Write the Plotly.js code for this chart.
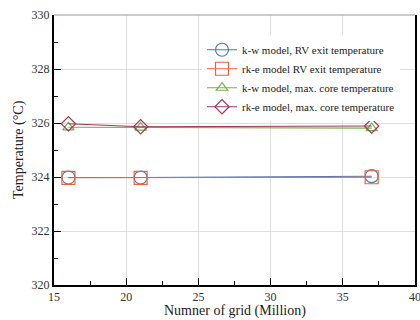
<!DOCTYPE html>
<html><head><meta charset="utf-8">
<script src="https://cdn.plot.ly/plotly-3.0.1.min.js"></script>
<style>body{margin:0;background:#fff}#c{width:420px;height:320px}</style>
</head><body><div id="c"></div>
<script>
const gridM = [16, 21, 37];
const kwExit = [323.98, 323.98, 324.03];
const rkeExit = [323.97, 323.97, 323.99];
const kwCore = [325.84, 325.83, 325.81];
const rkeCore = [325.97, 325.86, 325.89];
const names = ["k-w model, RV exit temperature", "rk-e model RV exit temperature", "k-w model, max. core temperature", "rk-e model, max. core temperature"];
const xTicks = [15, 20, 25, 30, 35, 40];
const yTicks = [320, 322, 324, 326, 328, 330];
const xTitle = 'Numner of grid (Million)';
const yTitle = 'Temperature (°C)';

const traces = [
  {x: gridM, y: kwExit, name: names[0], mode: 'lines+markers', line: {color: '#4a7ab8', width: 1.1}, marker: {symbol: 'circle-open', size: 13, color: '#4a7ab8', line: {width: 1.2}}},
  {x: gridM, y: rkeExit, name: names[1], mode: 'lines+markers', line: {color: '#f0603a', width: 1.1}, marker: {symbol: 'square-open', size: 13, color: '#f0603a', line: {width: 1.2}}},
  {x: gridM, y: kwCore, name: names[2], mode: 'lines+markers', line: {color: '#78b04a', width: 1.1}, marker: {symbol: 'triangle-up-open', size: 10, color: '#78b04a', line: {width: 1.2}}},
  {x: gridM, y: rkeCore, name: names[3], mode: 'lines+markers', line: {color: '#a03858', width: 1.1}, marker: {symbol: 'diamond-open', size: 11, color: '#a03858', line: {width: 1.2}}}
];

const ff = '"Liberation Serif", "Times New Roman", serif';
const layout = {
  width: 420, height: 320,
  margin: {l: 54, r: 5, t: 15, b: 35},
  paper_bgcolor: '#fff', plot_bgcolor: '#fff',
  font: {family: ff, color: '#222', size: 12},
  showlegend: true,
  legend: {x: 0.41, y: 0.925, xanchor: 'left', yanchor: 'top', bgcolor: '#fff', font: {family: ff, size: 11, color: '#222'}, tracegroupgap: 0},
  xaxis: {
    range: [15, 40], tickmode: 'array', tickvals: xTicks, ticktext: xTicks.map(String),
    ticklabeloverflow: 'allow',
    ticks: 'inside', ticklen: 7, tickcolor: '#000', tickwidth: 1,
    showline: true, linecolor: '#000', linewidth: 2, mirror: false,
    showgrid: true, gridcolor: '#dedede', gridwidth: 1,
    zeroline: false, automargin: false,
    minor: {dtick: 2.5, tick0: 15, ticks: 'inside', ticklen: 4, tickcolor: '#000', showgrid: false},
    tickfont: {family: ff, size: 12, color: '#333'}
  },
  yaxis: {
    range: [320, 330], tickmode: 'array', tickvals: yTicks, ticktext: yTicks.map(String),
    ticks: 'inside', ticklen: 7, tickcolor: '#000', tickwidth: 1,
    showline: true, linecolor: '#000', linewidth: 2, mirror: true,
    showgrid: true, gridcolor: '#dedede', gridwidth: 1,
    zeroline: false, automargin: false,
    minor: {dtick: 1, tick0: 320, ticks: 'inside', ticklen: 4, tickcolor: '#000', showgrid: false},
    tickfont: {family: ff, size: 12, color: '#333'}
  },
  shapes: [
    {type: 'line', xref: 'paper', yref: 'paper', x0: 0, x1: 1, y0: 1, y1: 1, line: {color: '#999', width: 1}}
  ],
  annotations: [
    {text: xTitle, xref: 'paper', yref: 'paper', x: 0.5, y: 0, xanchor: 'center', yanchor: 'bottom', yshift: -35, showarrow: false, borderpad: 0, font: {family: ff, size: 14, color: '#222'}},
    {text: yTitle, xref: 'paper', yref: 'paper', x: 0, y: 0.5, xanchor: 'center', yanchor: 'middle', xshift: -35, textangle: -90, showarrow: false, borderpad: 0, font: {family: ff, size: 14, color: '#222'}}
  ]
};
Plotly.newPlot('c', traces, layout, {staticPlot: true, displayModeBar: false});
</script></body></html>
